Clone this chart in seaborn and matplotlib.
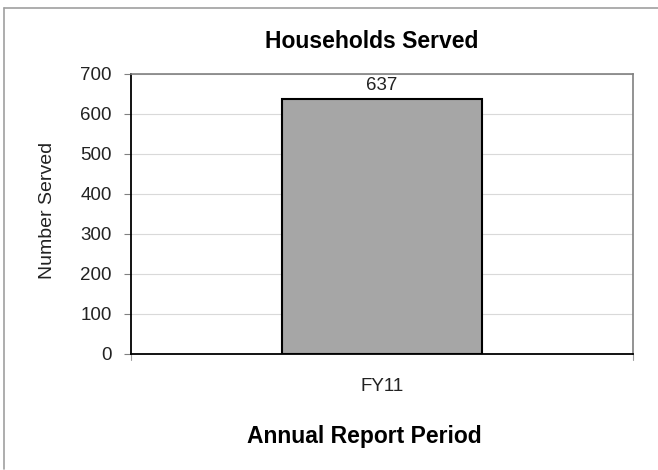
import pandas as pd
import seaborn as sns
import matplotlib
matplotlib.use("Agg")
import matplotlib.pyplot as plt
from matplotlib.lines import Line2D

# chart data
periods = ["FY11"]
served = [637]
y_ticks = [0, 100, 200, 300, 400, 500, 600, 700]

df = pd.DataFrame({"period": periods, "served": served})

sns.set_theme(style="white")
plt.rcParams['font.family'] = ['Liberation Sans', 'DejaVu Sans']

W, H = 658, 470
fig = plt.figure(figsize=(W / 100, H / 100), dpi=100)
ax = fig.add_axes([131 / W, 1 - 354 / H, (633 - 131) / W, (354 - 74) / H])

sns.barplot(data=df, x="period", y="served", color="#A6A6A6", width=0.4,
            edgecolor="black", linewidth=1.5, saturation=1, ax=ax, zorder=3)

ax.set_xlim(-0.5, 0.5)
ax.set_ylim(0, 700)
ax.set_yticks(y_ticks)
ax.set_yticklabels([str(t) for t in y_ticks], fontsize=13.5, color="#222222")
ax.tick_params(axis="y", direction="out", length=5, width=0.8, color="#808080", pad=9, left=True)
ax.tick_params(axis="x", length=0, pad=17, labelsize=13.5, labelcolor="#222222")
ax.grid(axis="y", color="#D9D9D9", linewidth=0.8, zorder=0)

for side in ["left", "bottom"]:
    ax.spines[side].set_color("black")
    ax.spines[side].set_linewidth(1.3)
for side in ["top", "right"]:
    ax.spines[side].set_color("#808080")
    ax.spines[side].set_linewidth(1.2)
    ax.spines[side].set_visible(True)

# little tick marks at the ends of the category axis
for xv in [-0.5, 0.5]:
    ax.plot([xv, xv], [0, -14], color="#A0A0A0", linewidth=0.8, clip_on=False)

for i, v in enumerate(served):
    ax.text(i, v + 14, str(v), ha="center", va="bottom", fontsize=13.5, color="#222222")

ax.set_xlabel("")
ax.set_ylabel("")
fig.text(47 / W, 1 - 210 / H, "Number Served", rotation=90, ha="center", va="center",
         fontsize=14, color="#222222")

fig.text(372 / W, 1 - 42 / H, "Households Served", ha="center", va="center",
         fontsize=16.5, fontweight="bold", color="black")
fig.text(364 / W, 1 - 436 / H, "Annual Report Period", ha="center", va="center",
         fontsize=16.5, fontweight="bold", color="black")

# chart frame (left and top edges visible)
fig.add_artist(Line2D([3.5 / W, 1.0], [1 - 7.5 / H, 1 - 7.5 / H], color="#A0A0A0", linewidth=1.2))
fig.add_artist(Line2D([3.5 / W, 3.5 / W], [1 - 7.5 / H, 1 - 469 / H], color="#A0A0A0", linewidth=1.2))

fig.savefig("out.png", dpi=100, facecolor="white")
